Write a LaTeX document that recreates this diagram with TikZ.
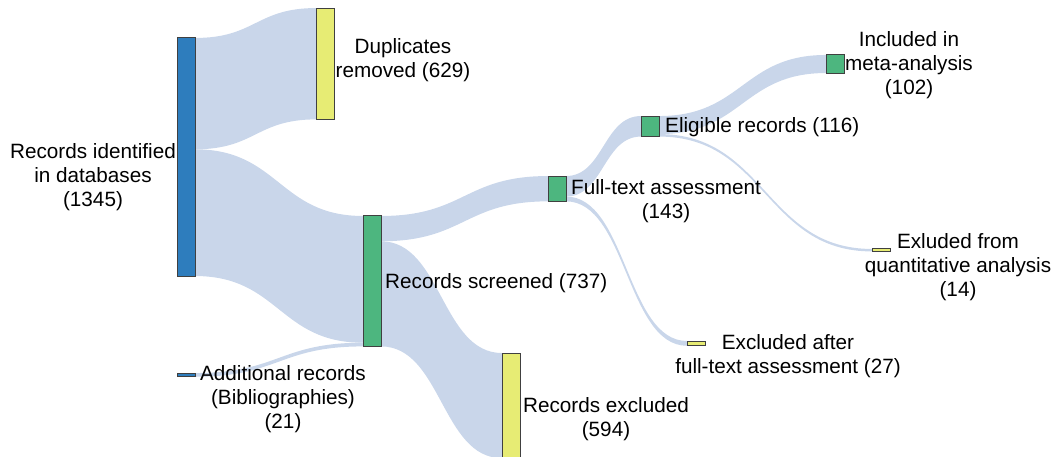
\documentclass[tikz,border=0pt]{standalone}
\usepackage{fontspec}
\setmainfont{Liberation Sans}
\usetikzlibrary{calc, backgrounds}

\definecolor{srcblue}{RGB}{46,125,189}
\definecolor{keepgreen}{RGB}{77,182,127}
\definecolor{dropyellow}{RGB}{231,236,116}
\definecolor{bandgrey}{RGB}{201,214,234}
\definecolor{rimgrey}{RGB}{64,64,64}

% pt of bar height per record
\newcommand{\vscale}{0.177}
% source, records above it at source, target, records above it at target, records
\newcommand{\linkflow}[5]{%
  \fill[flowband] let \p1 = ($(#1.north east)+(0,{-#2*\vscale})$),
                      \p2 = ($(#3.north west)+(0,{-#4*\vscale})$),
                      \p3 = ($(\p1)+(0,{-#5*\vscale})$),
                      \p4 = ($(\p2)+(0,{-#5*\vscale})$)
    in (\p1) .. controls ({(\x1+\x2)/2},\y1) and ({(\x1+\x2)/2},\y2) .. (\p2)
       -- (\p4) .. controls ({(\x1+\x2)/2},\y4) and ({(\x1+\x2)/2},\y3) .. (\p3) -- cycle;}

\begin{document}
\begin{tikzpicture}[x=1pt, y=1pt,
    bar/.style={draw=rimgrey, line width=1pt, inner sep=0pt, outer sep=0pt,
                minimum width=18pt, minimum height=#1*\vscale*1pt},
    lbl/.style={align=center, inner sep=0pt, font=\fontsize{20.7}{24}\selectfont},
    flowband/.style={fill=bandgrey}]
  \useasboundingbox (0,0) rectangle (1055,-457);

  % bars
  \node[bar=1345, fill=srcblue] (rid) at (186,-157) {};
  \node[bar=21, fill=srcblue] (add) at (186,-374.9) {};
  \node[bar=629, fill=dropyellow] (dup) at (325.5,-63.7) {};
  \node[bar=737, fill=keepgreen] (scr) at (372,-281.2) {};
  \node[bar=594, fill=dropyellow] (exc) at (511,-405.6) {};
  \node[bar=143, fill=keepgreen] (ful) at (557,-188.7) {};
  \node[bar=116, fill=keepgreen] (eli) at (650,-126.3) {};
  \node[bar=27, fill=dropyellow] (exf) at (696,-343.4) {};
  \node[bar=102, fill=keepgreen] (inc) at (835,-64) {};
  \node[bar=14, fill=dropyellow] (exq) at (881,-250.2) {};

  % flows behind the bars
  \begin{scope}[on background layer]
    \linkflow{rid}{0}{dup}{0}{629}
    \linkflow{rid}{629}{scr}{0}{716}
    \linkflow{add}{0}{scr}{716}{21}
    \linkflow{scr}{0}{ful}{0}{143}
    \linkflow{scr}{143}{exc}{0}{594}
    \linkflow{ful}{0}{eli}{0}{116}
    \linkflow{ful}{116}{exf}{0}{27}
    \linkflow{eli}{0}{inc}{0}{102}
    \linkflow{eli}{102}{exq}{0}{14}
  \end{scope}

  % labels
  \node[lbl] (rid-lbl) at (93,-177) {Records identified\\in databases\\(1345)};
  \node[lbl] (add-lbl) at (283,-399.5) {Additional records\\(Bibliographies)\\(21)};
  \node[lbl] (dup-lbl) at (403,-60) {Duplicates\\removed (629)};
  \node[lbl, anchor=west] (scr-lbl) at (385,-283) {Records screened (737)};
  \node[lbl] (exc-lbl) at (606,-419) {Records excluded\\(594)};
  \node[lbl] (ful-lbl) at (666,-201.5) {Full-text assessment\\(143)};
  \node[lbl, anchor=west] (eli-lbl) at (665,-127) {Eligible records (116)};
  \node[lbl] (exf-lbl) at (788,-356.5) {Excluded after\\full-text assessment (27)};
  \node[lbl] (inc-lbl) at (909,-65) {Included in\\meta-analysis\\(102)};
  \node[lbl] (exq-lbl) at (958,-267.5) {Exluded from\\quantitative analysis\\(14)};
\end{tikzpicture}
\end{document}
